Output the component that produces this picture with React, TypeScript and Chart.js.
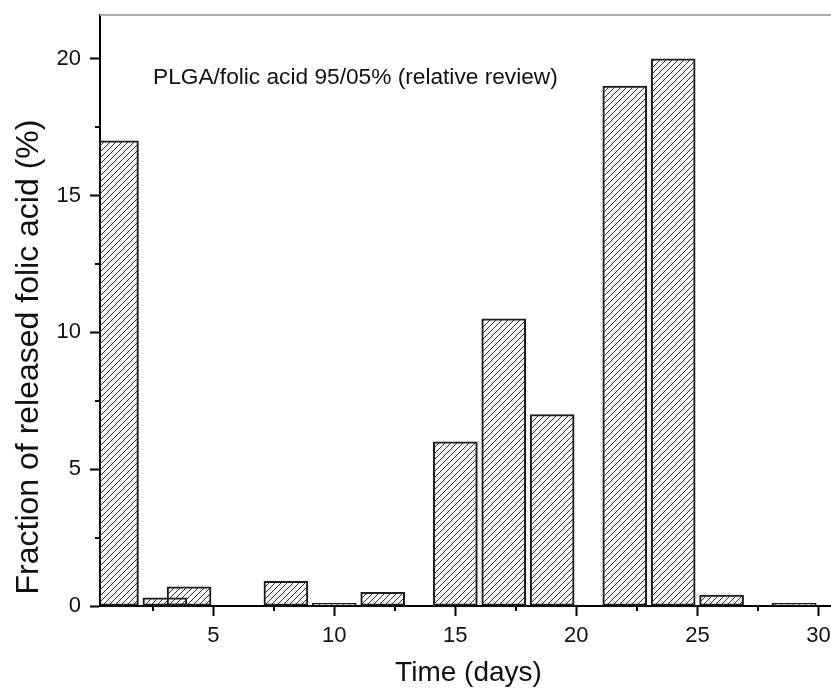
import React, { useEffect, useRef } from 'react';
import { Chart, registerables } from 'chart.js';

Chart.register(...registerables);

// ---- data ----
const days = [1, 3, 4, 8, 10, 12, 15, 17, 19, 22, 24, 26, 29];
const released = [17, 0.3, 0.7, 0.9, 0.1, 0.5, 6, 10.5, 7, 19, 20, 0.4, 0.1];
const xMajorTicks = [5, 10, 15, 20, 25, 30];
const xMinorTicks = [2.5, 7.5, 12.5, 17.5, 22.5, 27.5];
const yMajorTicks = [0, 5, 10, 15, 20];
const yMinorTicks = [2.5, 7.5, 12.5, 17.5];
const xTitle = 'Time (days)';
const yTitle = 'Fraction of released folic acid (%)';
const note = 'PLGA/folic acid 95/05% (relative review)';

const FONT = '"Liberation Sans", Arial, Helvetica, sans-serif';

function makeHatch(): CanvasPattern | string {
  const s = 6;
  const c = document.createElement('canvas');
  c.width = s;
  c.height = s;
  const g = c.getContext('2d');
  if (!g) return 'rgba(0,0,0,0)';
  g.strokeStyle = '#2e2e2e';
  g.lineWidth = 1;
  g.beginPath();
  g.moveTo(-1, 1);
  g.lineTo(1, -1);
  g.moveTo(0, s);
  g.lineTo(s, 0);
  g.moveTo(s - 1, s + 1);
  g.lineTo(s + 1, s - 1);
  g.stroke();
  const p = g.createPattern(c, 'repeat');
  return p || '#888';
}

const decor = {
  id: 'decor',
  afterDraw(chart: any) {
    const { ctx, chartArea: a, scales } = chart;
    const x = scales.x;
    const y = scales.y;
    ctx.save();
    // minor ticks
    ctx.strokeStyle = '#000';
    ctx.lineWidth = 2;
    ctx.beginPath();
    xMinorTicks.forEach((v) => {
      const px = Math.round(x.getPixelForValue(v));
      ctx.moveTo(px, a.bottom);
      ctx.lineTo(px, a.bottom + 5);
    });
    yMinorTicks.forEach((v) => {
      const py = Math.round(y.getPixelForValue(v));
      ctx.moveTo(a.left, py);
      ctx.lineTo(a.left - 5, py);
    });
    ctx.stroke();
    // top frame line
    ctx.strokeStyle = '#aaaaaa';
    ctx.lineWidth = 2;
    ctx.beginPath();
    ctx.moveTo(a.left, a.top);
    ctx.lineTo(a.right, a.top);
    ctx.stroke();
    // texts
    ctx.fillStyle = '#111';
    ctx.font = `22.7px ${FONT}`;
    ctx.textAlign = 'left';
    ctx.textBaseline = 'middle';
    ctx.fillText(note, a.left + 53, a.top + 63);

    ctx.font = `28px ${FONT}`;
    ctx.textAlign = 'center';
    ctx.fillText(xTitle, 468.5, 673);

    ctx.save();
    ctx.translate(29, 357);
    ctx.rotate(-Math.PI / 2);
    ctx.font = `32px ${FONT}`;
    ctx.textAlign = 'center';
    ctx.textBaseline = 'middle';
    ctx.fillText(yTitle, 0, 0);
    ctx.restore();
    ctx.restore();
  },
};

export default function App() {
  const ref = useRef<HTMLCanvasElement | null>(null);

  useEffect(() => {
    const canvas = ref.current;
    if (!canvas) return;
    const hatch = makeHatch();
    const chart = new Chart(canvas, {
      type: 'bar',
      data: {
        datasets: [
          {
            data: days.map((d, i) => ({ x: d, y: released[i] })),
            backgroundColor: hatch as any,
            borderColor: '#1a1a1a',
            borderWidth: 1.4,
            borderSkipped: false,
            barThickness: 44,
          } as any,
        ],
      },
      options: {
        responsive: false,
        devicePixelRatio: 1,
        animation: false,
        layout: { padding: { top: 15, right: 0, left: 0, bottom: 0 } },
        plugins: {
          legend: { display: false },
          tooltip: { enabled: false },
          title: { display: false },
        },
        scales: {
          x: {
            type: 'linear',
            min: 0.32,
            max: 30.52,
            offset: false,
            afterBuildTicks: (s: any) => {
              s.ticks = xMajorTicks.map((v) => ({ value: v }));
            },
            afterFit: (s: any) => {
              s.height = 82;
              s.paddingLeft = 0;
              s.paddingRight = 0;
            },
            grid: {
              offset: false,
              drawOnChartArea: false,
              drawTicks: true,
              tickLength: 10,
              tickWidth: 2,
              tickColor: '#000',
            },
            border: { display: true, color: '#000', width: 2 },
            ticks: {
              font: { family: FONT, size: 22 },
              color: '#111',
              padding: 7,
              maxRotation: 0,
              autoSkip: false,
            },
          },
          y: {
            type: 'linear',
            min: 0,
            max: 21.6,
            afterBuildTicks: (s: any) => {
              s.ticks = yMajorTicks.map((v) => ({ value: v }));
            },
            afterFit: (s: any) => {
              s.width = 100;
              s.paddingTop = 0;
              s.paddingBottom = 0;
            },
            grid: {
              offset: false,
              drawOnChartArea: false,
              drawTicks: true,
              tickLength: 10,
              tickWidth: 2,
              tickColor: '#000',
            },
            border: { display: true, color: '#000', width: 2 },
            ticks: {
              font: { family: FONT, size: 22 },
              color: '#111',
              padding: 9,
              autoSkip: false,
            },
          },
        },
      } as any,
      plugins: [decor],
    });
    return () => chart.destroy();
  }, []);

  return (
    <div style={{ position: 'absolute', left: 0, top: 0, width: 831, height: 688, background: '#fff' }}>
      <canvas ref={ref} width={831} height={688} style={{ display: 'block' }} />
    </div>
  );
}
